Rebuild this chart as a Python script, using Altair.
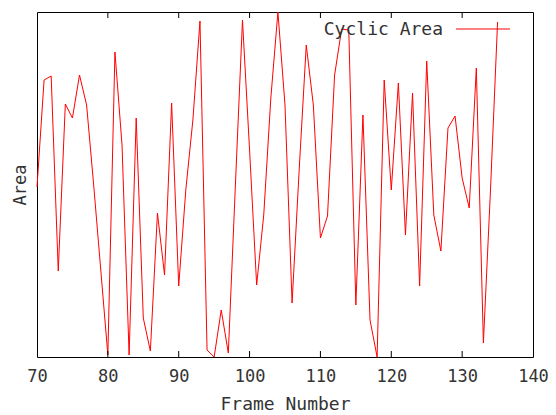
import altair as alt
import pandas as pd

frames = list(range(70, 136))
area = [170, 277, 281, 86, 253, 239, 282, 252, 172, 87,
        2, 305, 212, 2, 239, 39, 6, 144, 82, 254,
        71, 167, 237, 336, 7, 0, 47, 4, 172, 337,
        207, 72, 142, 259, 345, 252, 54, 187, 312, 252,
        119, 141, 282, 328, 327, 52, 242, 37, 0, 277,
        167, 274, 122, 264, 71, 296, 142, 106, 229, 241,
        179, 149, 289, 14, 167, 335]
x_label_values = [70, 80, 90, 100, 110, 120, 130, 140]
tick_frames = [80, 90, 100, 110, 120, 130]
legend_label = ["Cyclic Area"]

df = pd.DataFrame({"frame": frames, "area": area})
ticks_df = pd.DataFrame({"frame": tick_frames})
legend_df = pd.DataFrame({"label": legend_label})

FONT = "DejaVu Sans Mono"
TXT = "#333333"
xscale = alt.Scale(domain=[70, 140], nice=False, zero=False)
yscale = alt.Scale(domain=[0, 345], nice=False, zero=False)

line = alt.Chart(df).mark_line(color="#ff0000", strokeWidth=1).encode(
    x=alt.X("frame:Q", scale=xscale,
            axis=alt.Axis(values=x_label_values, ticks=False, domain=False, grid=False,
                          labelFont=FONT, labelFontSize=17, labelColor=TXT,
                          labelPadding=11, labelFlush=False,
                          title="Frame Number", titleFont=FONT, titleFontSize=18,
                          titleFontWeight="normal", titleColor=TXT, titlePadding=11)),
    y=alt.Y("area:Q", scale=yscale,
            axis=alt.Axis(labels=False, ticks=False, domain=False, grid=False,
                          title="Area", titleFont=FONT, titleFontSize=17,
                          titleFontWeight="normal", titleColor=TXT, titlePadding=8)),
)

bottom_ticks = alt.Chart(ticks_df).mark_rule(color="#000", strokeWidth=1).encode(
    x=alt.X("frame:Q", scale=xscale), y=alt.value(345), y2=alt.value(339))
top_ticks = alt.Chart(ticks_df).mark_rule(color="#000", strokeWidth=1).encode(
    x=alt.X("frame:Q", scale=xscale), y=alt.value(0), y2=alt.value(6))

legend_text = alt.Chart(legend_df).mark_text(
    align="right", baseline="middle", font=FONT, fontSize=18, color=TXT).encode(
    x=alt.value(406), y=alt.value(18), text="label:N")
legend_line = alt.Chart(legend_df).mark_rule(color="#ff0000", strokeWidth=1).encode(
    x=alt.value(419), x2=alt.value(473), y=alt.value(17))

chart = alt.layer(line, bottom_ticks, top_ticks, legend_text, legend_line).properties(
    width=496, height=345,
    autosize=alt.AutoSizeParams(type="none"),
    padding={"left": 37, "top": 12, "right": 23, "bottom": 58},
    background="white",
).configure_view(stroke="#000", strokeWidth=1)

chart.save("out.html", embed_options={"renderer": "svg", "actions": False})
